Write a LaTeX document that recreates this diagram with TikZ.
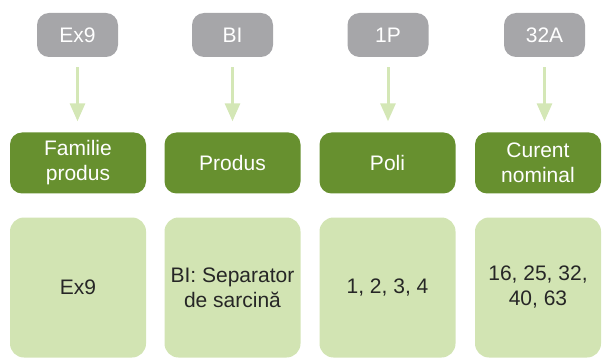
\documentclass[tikz,border=0pt]{standalone}
\usepackage{fontspec}
\setmainfont{Liberation Sans}
\usetikzlibrary{arrows.meta}
\definecolor{grayb}{HTML}{A6A6A9}
\definecolor{greenb}{HTML}{67902F}
\definecolor{lightb}{HTML}{D2E4B3}
\definecolor{arrowc}{HTML}{D4E7B6}
\definecolor{darktext}{HTML}{262626}
\tikzset{
  graybox/.style={fill=grayb, draw=none, rounded corners=12pt, minimum width=81pt, minimum height=44pt, inner sep=0pt, text=white, font=\fontsize{21}{25}\selectfont, align=center},
  greenbox/.style={fill=greenb, draw=none, rounded corners=12pt, minimum height=61pt, inner sep=0pt, text=white, font=\fontsize{21}{25}\selectfont, align=center},
  lightbox/.style={fill=lightb, draw=none, rounded corners=14pt, minimum height=140pt, inner sep=0pt, text=darktext, font=\fontsize{21}{25}\selectfont, align=center},
  arr/.style={draw=arrowc, line width=3pt, -{Triangle[length=18pt,width=15pt]}}
}
\begin{document}
\begin{tikzpicture}[x=1pt,y=-1pt]
\useasboundingbox (0,0) rectangle (602,358);
% gray boxes
\node[graybox] (g1) at (77.5,35) {Ex9};
\node[graybox] (g2) at (232.5,35) {BI};
\node[graybox] (g3) at (388,35) {1P};
\node[graybox] (g4) at (544.5,35) {32A};
% green boxes
\node[greenbox, minimum width=136pt] (p1) at (78,163) {Familie\\produs};
\node[greenbox, minimum width=136pt] (p2) at (232.5,163) {Produs};
\node[greenbox, minimum width=136pt] (p3) at (387.5,163) {Poli};
\node[greenbox, minimum width=126pt] (p4) at (538,163) {Curent\\nominal};
% light boxes
\node[lightbox, minimum width=136pt] (v1) at (78,287.5) {Ex9};
\node[lightbox, minimum width=136pt] (v2) at (232.5,287.5) {BI: Separator\\de sarcină};
\node[lightbox, minimum width=136pt] (v3) at (387.5,287.5) {1, 2, 3, 4};
\node[lightbox, minimum width=126pt] (v4) at (538,287.5) {16, 25, 32,\\40, 63};
% arrows
\foreach \i in {1,2,3,4}{
  \draw[arr] ([yshift=-10pt]g\i.south) -- ([yshift=11pt]g\i.south |- p\i.north);
}
\end{tikzpicture}
\end{document}
